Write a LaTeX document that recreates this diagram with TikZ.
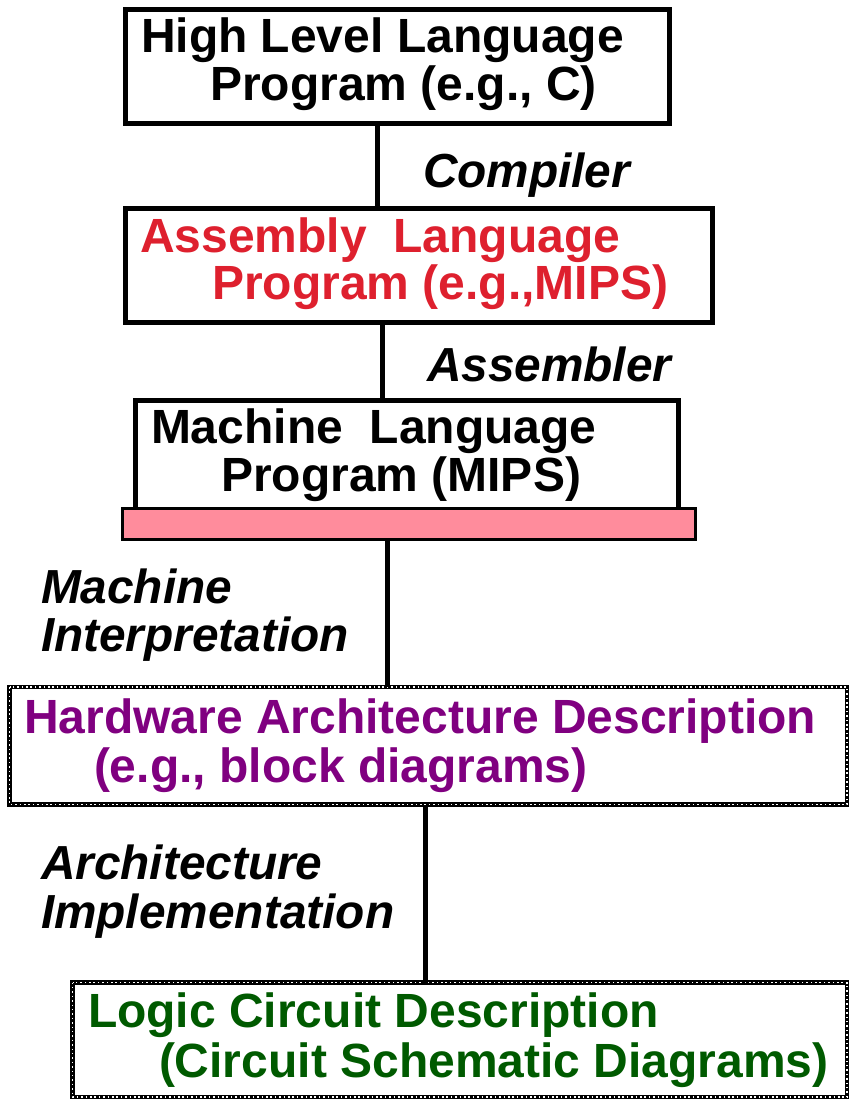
\documentclass[tikz,border=0pt]{standalone}
\usepackage{fontspec}
\setmainfont{Liberation Sans}
\begin{document}
\begin{tikzpicture}[x=1pt,y=-1pt,
  every node/.style={inner sep=0pt, outer sep=0pt},
  txt/.style={anchor=base west, font=\fontsize{48}{48}\selectfont\bfseries},
  lbl/.style={anchor=base west, font=\fontsize{47.8}{48}\selectfont\bfseries\itshape},
  solidbox/.style={draw=black, line width=5pt, fill=white},
  wire/.style={draw=black, line width=5pt}]
\definecolor{asmred}{RGB}{222,32,46}
\definecolor{hwpurple}{RGB}{128,0,128}
\definecolor{logicgreen}{RGB}{0,90,0}
\definecolor{barpink}{RGB}{255,140,156}
\tikzset{
  dotframe/.style={draw=black, line width=4.5pt,
    postaction={draw=white, line width=1.5pt, dash pattern=on 1.5pt off 2.9pt}}}
\useasboundingbox (0,0) rectangle (851,1100);

% frames
\path[solidbox] (125.5,9.5) rectangle (669,123.5);
\node (hll) at (397.25,66.5) [minimum width=543.5pt, minimum height=114pt] {};
\path[solidbox] (125.5,208.5) rectangle (712.5,322.5);
\node (asm) at (419,265.5) [minimum width=587pt, minimum height=114pt] {};
\path[solidbox] (135.5,400) rectangle (678,512);
\node (mach) at (406.75,456) [minimum width=542.5pt, minimum height=112pt] {};
\path[draw=black, line width=3pt, fill=barpink] (122,508) rectangle (695,539);
\node (bar) at (408.5,523.5) [minimum width=573pt, minimum height=31pt] {};
\path[dotframe] (9.5,687) rectangle (847,804.5);
\node (hw) at (428.25,745.75) [minimum width=837.5pt, minimum height=117.5pt] {};
\path[dotframe] (72.5,982.5) rectangle (847,1097);
\node (logic) at (459.75,1039.75) [minimum width=774.5pt, minimum height=114.5pt] {};

% vertical connectors
\coordinate (c1) at (377,0);
\coordinate (c2) at (382,0);
\coordinate (c3) at (387,0);
\coordinate (c4) at (425,0);
\draw[wire] (hll.south -| c1) -- (asm.north -| c1);
\draw[wire] (asm.south -| c2) -- (mach.north -| c2);
\draw[wire] (bar.south -| c3) -- (hw.north -| c3);
\draw[wire] (hw.south -| c4) -- (logic.north -| c4);

% box texts
\node[txt] (hll1) at (141,52) {High Level Language};
\node[txt] (hll2) at (210,100) {Program (e.g., C)};
\node[txt, text=asmred] (asm1) at (140,252) {Assembly\ \ Language};
\node[txt, text=asmred] (asm2) at (212,299) {Program (e.g.,MIPS)};
\node[txt] (mach1) at (151,443) {Machine\ \ Language};
\node[txt] (mach2) at (221,491) {Program (MIPS)};
\node[txt, text=hwpurple] (hw1) at (24,733) {Hardware Architecture Description};
\node[txt, text=hwpurple] (hw2) at (94,782) {(e.g., block diagrams)};
\node[txt, text=logicgreen] (logic1) at (88,1027) {Logic Circuit Description};
\node[txt, text=logicgreen] (logic2) at (159,1077) {(Circuit Schematic Diagrams)};

% connector labels
\node[lbl] (lcomp) at (423,187) {Compiler};
\node[lbl] (lasm) at (427,381) {Assembler};
\node[lbl] (lmi1) at (41,603) {Machine};
\node[lbl] (lmi2) at (41,651) {Interpretation};
\node[lbl] (lai1) at (41,879) {Architecture};
\node[lbl] (lai2) at (41,928) {Implementation};
\end{tikzpicture}
\end{document}
